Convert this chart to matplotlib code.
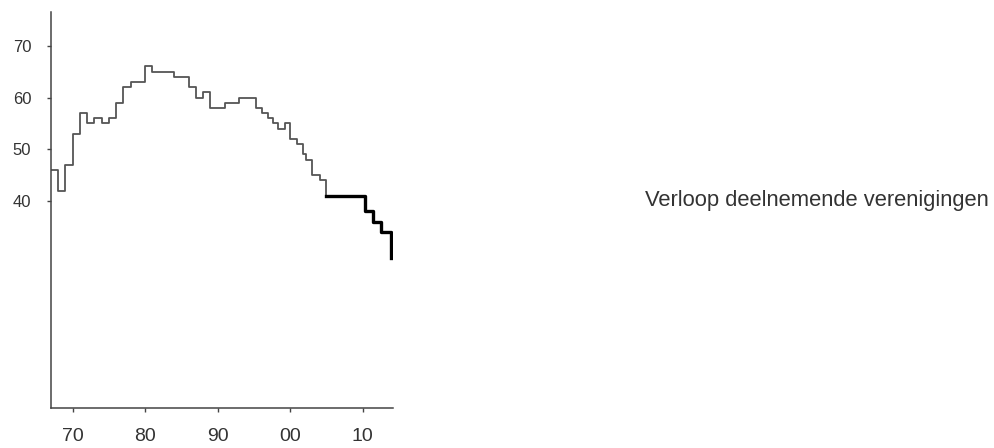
import matplotlib
matplotlib.use("Agg")
import matplotlib.pyplot as plt

plt.rcParams["font.family"] = ["Liberation Sans", "DejaVu Sans"]

# number of participating clubs per season (step positions in years)
gray_years = [1967, 1968, 1969, 1970, 1971, 1972, 1973, 1974, 1975, 1976,
              1977, 1978, 1980, 1981, 1984, 1986, 1987, 1988, 1989, 1991,
              1993, 1995.3, 1996.2, 1997, 1997.7, 1998.4, 1999.3, 2000,
              2000.9, 2001.8, 2002.2, 2003, 2004.1, 2005]
gray_vals = [46, 42, 47, 53, 57, 55, 56, 55, 56, 59,
             62, 63, 66, 65, 64, 62, 60, 61, 58, 59,
             60, 58, 57, 56, 55, 54, 55, 52,
             51, 49, 48, 45, 44, 41]

recent_years = [2005, 2010.3, 2011.4, 2012.6, 2013.9]
recent_vals = [41, 38, 36, 34, 29]

x_ticks = [1970, 1980, 1990, 2000, 2010]
x_labels = ["70", "80", "90", "00", "10"]
y_ticks = [40, 50, 60, 70]

fig = plt.figure(figsize=(9.95, 4.48), dpi=100)
ax = fig.add_axes([0.051, 0.089, 0.344, 0.884])

ax.step(gray_years, gray_vals, where="post", color="#555555", lw=1.3)
ax.step(recent_years, recent_vals, where="post", color="black", lw=2.4)

ax.set_xlim(1967, 2014.2)
ax.set_ylim(0, 76.5)
ax.set_xticks(x_ticks)
ax.set_xticklabels(x_labels, fontsize=14)
ax.set_yticks(y_ticks)
ax.set_yticklabels([str(v) for v in y_ticks], fontsize=12)

for side in ["top", "right"]:
    ax.spines[side].set_visible(False)
for side in ["left", "bottom"]:
    ax.spines[side].set_color("#444444")
    ax.spines[side].set_linewidth(1.1)
ax.tick_params(colors="#444444", labelcolor="#333333", length=3, width=1)
ax.tick_params(axis="x", pad=11)
ax.tick_params(axis="y", pad=11)

fig.text(0.648, 0.54, "Verloop deelnemende verenigingen", fontsize=15.8,
         color="#333333", va="baseline", ha="left")

fig.savefig("out.png", dpi=100)
